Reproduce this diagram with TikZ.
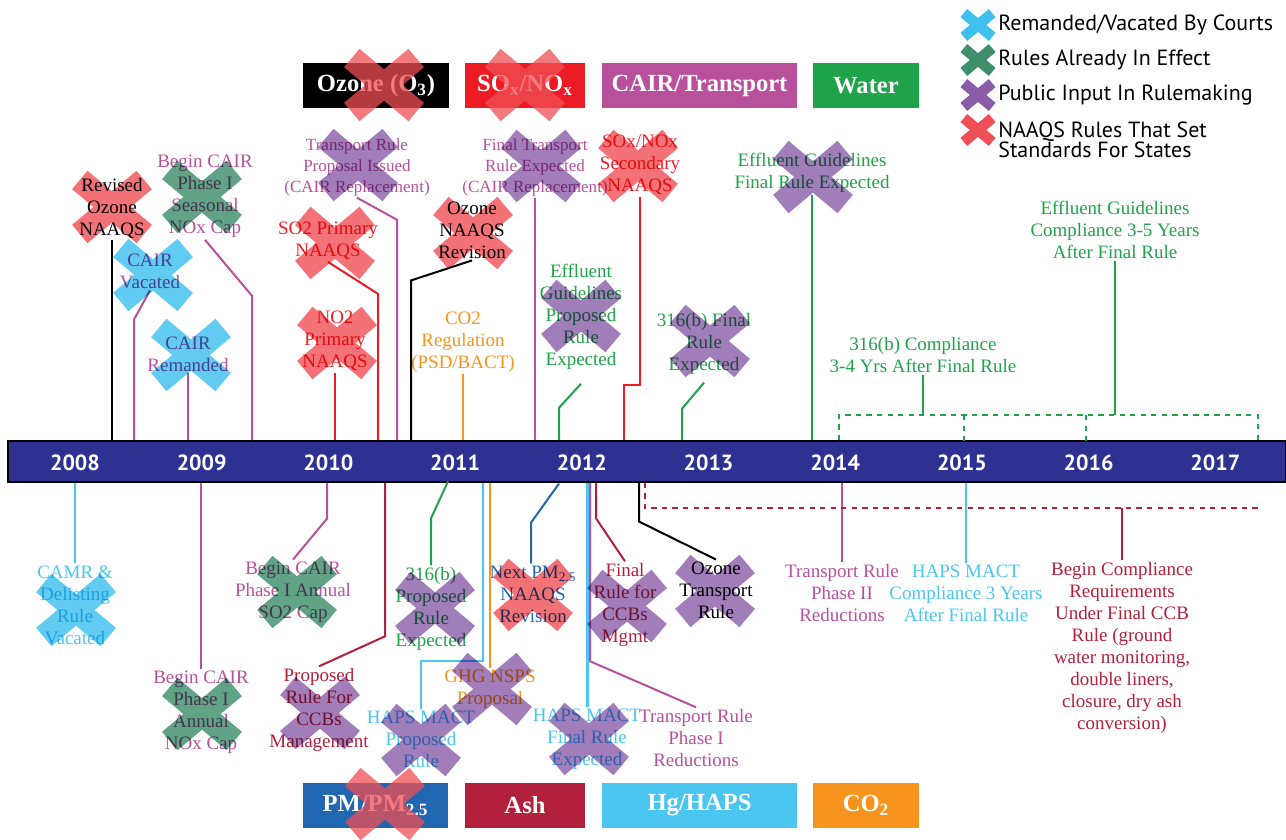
\documentclass[tikz,border=0pt]{standalone}
\usepackage{fontspec}
\setmainfont{Liberation Serif}
\newfontfamily\sansfam{PT Sans}
\usetikzlibrary{positioning}

\definecolor{magc}{RGB}{184,80,156}
\definecolor{redc}{RGB}{237,28,36}
\definecolor{grnc}{RGB}{30,163,74}
\definecolor{orgc}{RGB}{247,148,29}
\definecolor{cyac}{RGB}{74,198,240}
\definecolor{ashc}{RGB}{178,32,60}
\definecolor{pmc}{RGB}{33,102,176}
\definecolor{barc}{RGB}{46,49,146}
\definecolor{xcyac}{RGB}{63,192,239}
\definecolor{xgrnc}{RGB}{62,143,106}
\definecolor{xpurc}{RGB}{138,92,168}
\definecolor{xredc}{RGB}{239,79,85}

\tikzset{
    lbl/.style={align=center, inner sep=1pt, font=\fontsize{10.8}{12.5}\selectfont},
    sml/.style={lbl, font=\fontsize{9.7}{11.9}\selectfont},
    con/.style={line width=0.4mm},
    cat/.style={minimum height=9mm, inner sep=0pt, text=white, font=\bfseries\fontsize{14}{16}\selectfont},
    yr/.style={text=white, font=\sansfam\bfseries\fontsize{12.5}{14}\selectfont},
    leg/.style={anchor=west, inner sep=0pt, font=\sansfam\fontsize{12.5}{11.4}\selectfont},
    xcya/.style={fill=xcyac, fill opacity=.82},
    xgrn/.style={fill=xgrnc, fill opacity=.82},
    xpur/.style={fill=xpurc, fill opacity=.8},
    xred/.style={fill=xredc, fill opacity=.8},
    cross/.pic={\fill[pic actions] (39.9,17.8) -- (24.5,36.2) -- (-39.9,-17.8) -- (-24.5,-36.2) -- cycle
        (24.5,-36.2) -- (39.9,-17.8) -- (-24.5,36.2) -- (-39.9,17.8) -- cycle;}
}

\begin{document}
\begin{tikzpicture}[x=0.2mm, y=-0.2mm]
\useasboundingbox (0,0) rectangle (1286,840);

\node[draw=black, fill=barc, minimum width=255.6mm, minimum height=8.2mm, inner sep=0pt, line width=.3mm] (bar) at (647,461.5) {};
\foreach \yr [count=\i from 0] in {2008,...,2017}
    \node[yr] (y\yr) at ({75+126.7*\i},463) {\yr};

% category boxes
\node[cat, fill=black, minimum width=29.2mm] (ozone) at (376,85.5) {Ozone (O\textsubscript{3})};
\node[cat, fill=redc, minimum width=24mm] (soxnox) at (525,85.5) {SO\textsubscript{x}/NO\textsubscript{x}};
\node[cat, fill=magc, minimum width=39mm] (cair) at (699.5,85.5) {CAIR/Transport};
\node[cat, fill=grnc, minimum width=21.2mm] (water) at (866,85.5) {Water};
\node[cat, fill=pmc, minimum width=29mm] (pm) at (375.5,805.5) {PM/PM\textsubscript{2.5}};
\node[cat, fill=ashc, minimum width=24mm] (ash) at (525,805.5) {Ash};
\node[cat, fill=cyac, minimum width=39mm] (hg) at (699.5,805.5) {Hg/HAPS};
\node[cat, fill=orgc, minimum width=21.2mm] (co) at (866,805.5) {CO\textsubscript{2}};

% above the bar
\node[lbl] (ozrev) at (112,208) {Revised\\Ozone\\NAAQS};
\node[lbl, text=magc] (cairseas) at (205,196.5) {Begin CAIR\\Phase I\\Seasonal\\NOx Cap};
\node[lbl, text=magc] (cairvac) at (150,271) {CAIR\\Vacated};
\node[lbl, text=magc] (cairrem) at (188,354) {CAIR\\Remanded};
\node[sml, text=magc] (trprop) at (357,167) {Transport Rule\\Proposal Issued\\(CAIR Replacement)};
\node[lbl, text=redc] (sotwo) at (328,241) {SO2 Primary\\NAAQS};
\node[lbl, text=redc] (notwo) at (335,341) {NO2\\Primary\\NAAQS};
\node[lbl] (oznrev) at (472,230) {Ozone\\NAAQS\\Revision};
\node[lbl, text=orgc] (cotwo) at (463,342) {CO2\\Regulation\\(PSD/BACT)};
\node[sml, text=magc] (trfin) at (535,167) {Final Transport\\Rule Expected\\(CAIR Replacement)};
\node[lbl, text=redc] (soxsec) at (640,165) {SOx/NOx\\Secondary\\NAAQS};
\node[lbl, text=grnc] (effprop) at (581,317) {Effluent\\Guidelines\\Proposed\\Rule\\Expected};
\node[lbl, text=grnc] (tsfin) at (704,344) {316(b) Final\\Rule\\Expected};
\node[lbl, text=grnc] (efffin) at (812,173) {Effluent Guidelines\\Final Rule Expected};
\node[lbl, text=grnc] (tscomp) at (923,355) {316(b) Compliance\\3-4 Yrs After Final Rule};
\node[lbl, text=grnc] (effcomp) at (1115,230) {Effluent Guidelines\\Compliance 3-5 Years\\After Final Rule};

% below the bar
\node[lbl, text=cyac] (camr) at (75,605) {CAMR \&\\Delisting\\Rule\\Vacated};
\node[lbl, text=magc] (cairnox) at (201,712) {Begin CAIR\\Phase I\\Annual\\NOx Cap};
\node[lbl, text=magc] (cairso) at (293,592) {Begin CAIR\\Phase I Annual\\SO2 Cap};
\node[lbl, text=ashc] (ccbprop) at (319,710) {Proposed\\Rule For\\CCBs\\Management};
\node[lbl, text=grnc] (tsprop) at (431,609) {316(b)\\Proposed\\Rule\\Expected};
\node[lbl, text=pmc] (pmrev) at (533,594) {Next PM\textsubscript{2.5}\\NAAQS\\Revision};
\node[lbl, text=orgc] (ghg) at (490,689) {GHG NSPS\\Proposal};
\node[lbl, text=cyac] (happrop) at (421,739) {HAPS MACT\\Proposed\\Rule};
\node[lbl, text=cyac] (hapfin) at (587,739) {HAPS MACT\\Final Rule\\Expected};
\node[lbl, text=ashc] (ccbfin) at (625,605) {Final\\Rule for\\CCBs\\Mgmt};
\node[lbl, text=magc] (trone) at (696,738) {Transport Rule\\Phase I\\Reductions};
\node[lbl] (oztr) at (716,590) {Ozone\\Transport\\Rule};
\node[lbl, text=magc] (trtwo) at (842,593) {Transport Rule\\Phase II\\Reductions};
\node[lbl, text=cyac] (hapcomp) at (966,593) {HAPS MACT\\Compliance 3 Years\\After Final Rule};
\node[lbl, text=ashc] (ccbcomp) at (1122,648) {Begin Compliance\\Requirements\\Under Final CCB\\Rule (ground\\water monitoring,\\double liners,\\closure, dry ash\\conversion)};

\coordinate (wL) at (839,415);
\coordinate (wR) at (1258,415);
\coordinate (aL) at (645,508);
\coordinate (aR) at (1259,508);

% connectors above
\draw[con, line width=.55mm] (ozrev.south) -- (ozrev.south |- bar.north);
\draw[con, magc] (cairseas.south) -- ++(47,56) coordinate (k) -- (k |- bar.north);
\draw[con, magc] (cairvac.south) -- ++(-16,29) coordinate (k) -- (k |- bar.north);
\draw[con, magc] (cairrem.south) -- (cairrem.south |- bar.north);
\draw[con, magc] (trprop.south) -- ++(40,22) coordinate (k) -- (k |- bar.north);
\draw[con, redc] (sotwo.south) -- ++(50,32) coordinate (k) -- (k |- bar.north);
\draw[con, redc] (notwo.south) -- (notwo.south |- bar.north);
\draw[con] (oznrev.south) -- ++(-61,20) coordinate (k) -- (k |- bar.north);
\draw[con, orgc] (cotwo.south) -- (cotwo.south |- bar.north);
\draw[con, magc] (trfin.south) -- (trfin.south |- bar.north);
\draw[con, redc] (soxsec.south) -- ++(0,188) -- ++(-16,0) coordinate (k) -- (k |- bar.north);
\draw[con, grnc] (effprop.south) ++(0,12) -- ++(-22,24) coordinate (k) -- (k |- bar.north);
\draw[con, grnc] (tsfin.south) ++(0,6) -- ++(-22,26) coordinate (k) -- (k |- bar.north);
\draw[con, grnc] (efffin.south) -- (efffin.south |- bar.north);
\draw[con, grnc] (tscomp.south) -- (tscomp.south |- wL);
\draw[con, grnc] (effcomp.south) -- (effcomp.south |- wL);
\draw[con, grnc, dashed] (wL |- bar.north) -- (wL) -- (wR) -- (wR |- bar.north);
\foreach \x in {964,1086}
    \draw[con, grnc, dashed] (\x,415) -- (\x,441);

% connectors below
\draw[con, cyac] (camr.north) -- (camr.north |- bar.south);
\draw[con, magc] (cairnox.north) -- (cairnox.north |- bar.south);
\draw[con, magc] (cairso.north) -- ++(34,-41) coordinate (k) -- (k |- bar.south);
\draw[con, ashc] (ccbprop.north) -- ++(66,-30) coordinate (k) -- (k |- bar.south);
\draw[con, grnc] (tsprop.north) -- ++(0,-47) -- ++(17,-37);
\draw[con, pmc] (pmrev.north) ++(-2,0) -- ++(0,-41) -- ++(28,-39);
\draw[con, orgc] (ghg.north) -- (ghg.north |- bar.south);
\draw[con, cyac] (happrop.north) |- ++(62,-48) coordinate (k) -- (k |- bar.south);
\draw[con, cyac, line width=.6mm] (hapfin.north) -- (hapfin.north |- bar.south);
\draw[con, ashc] (ccbfin.north) -- ++(-29,-43) coordinate (k) -- (k |- bar.south);
\draw[con, magc] (trone.north) -- ++(-106,-46) coordinate (k) -- (k |- bar.south);
\draw[con] (oztr.north) -- ++(-77,-38) coordinate (k) -- (k |- bar.south);
\draw[con, magc] (trtwo.north) -- (trtwo.north |- bar.south);
\draw[con, cyac] (hapcomp.north) -- (hapcomp.north |- bar.south);
\draw[con, ashc, dashed] (aL |- bar.south) -- (aL) -- (aR);
\draw[con, ashc] (ccbcomp.north) -- (ccbcomp.north |- aL);

% crosses
\foreach \p in {(384,85),(525,85),(385,804)}
    \pic[xred, fill opacity=.75] at \p {cross};
\begin{scope}[blend mode=multiply]
\foreach \p in {(112,207),(335,243),(337,343),(473,233),(638,166),(533,595)}
    \pic[xred] at \p {cross};
\foreach \p in {(202,197),(202,714),(297,592)}
    \pic[xgrn] at \p {cross};
\foreach \p in {(153,275),(191,355),(76,610)}
    \pic[xcya] at \p {cross};
\foreach \p in {(358,165),(541,166),(581,316),(710,341),(813,177),(320,713),(435,608),(492,689),(421,740),(589,739),(627,606),(715,591)}
    \pic[xpur] at \p {cross};
\end{scope}

% legend
\foreach \s/\yy in {xcya/25,xgrn/60,xpur/95,xred/130}
    \pic[\s, fill opacity=1, scale=.44] at (978,\yy) {cross};
\node[leg] (lgcya) at (998,25) {Remanded/Vacated By Courts};
\node[leg] (lggrn) at (998,60) {Rules Already In Effect};
\node[leg] (lgpur) at (998,95) {Public Input In Rulemaking};
\node[leg, align=left] (lgred) at (998,140) {NAAQS Rules That Set\\Standards For States};
\end{tikzpicture}
\end{document}
